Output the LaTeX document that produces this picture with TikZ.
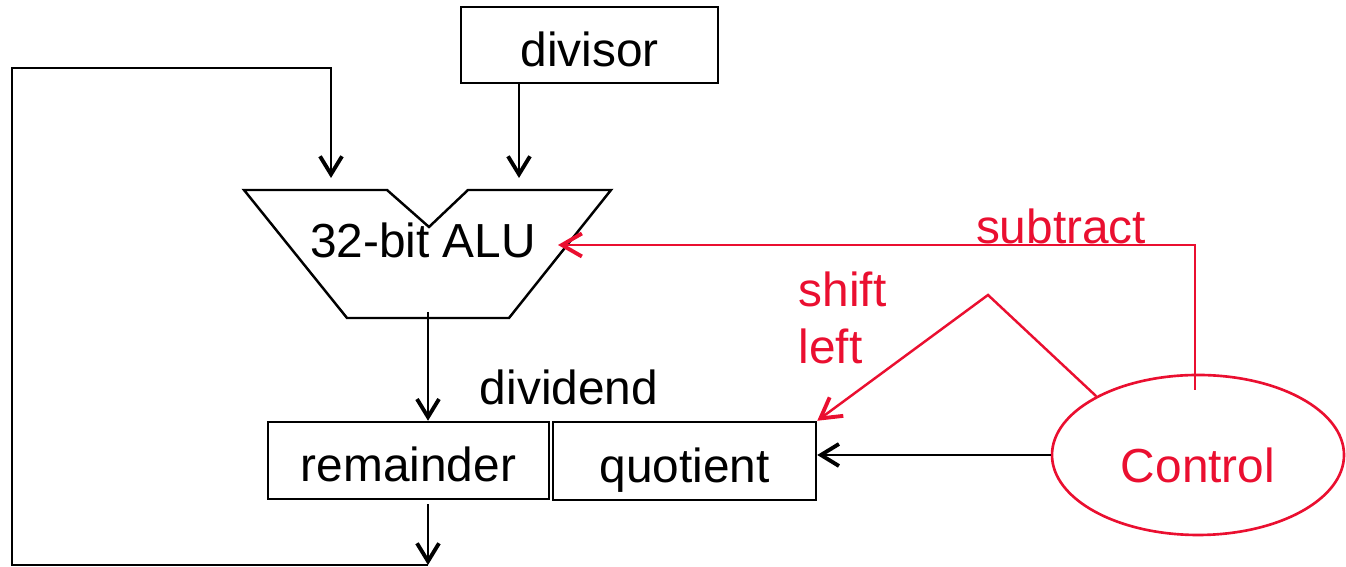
\documentclass[tikz,border=0pt]{standalone}
\usepackage{fontspec}
\setmainfont{Liberation Sans}
\usepackage{xcolor}
\usetikzlibrary{arrows.meta,shapes.geometric,calc}
\definecolor{ctrlred}{HTML}{EA0F30}
\newcommand\dpfont{\fontsize{13.6}{16}\selectfont}
\tikzset{
  reg/.style={rectangle,draw=black,line width=0.7pt,inner sep=0pt,text height=13.5pt,text depth=1.5pt,font=\dpfont},
  lbl/.style={inner sep=0pt,font=\dpfont},
  unit/.style={draw=black,line width=0.7pt},
  wire/.style={-{Straight Barb[length=1.8mm,width=2.2mm,line width=1.1pt]},line width=0.8pt,draw=black},
  ctrl/.style={ellipse,draw=ctrlred,line width=0.75pt,minimum width=2.92cm,minimum height=1.6cm,inner sep=0pt,text height=16pt,text depth=0.6pt,text=ctrlred,font=\dpfont},
  sig/.style={-{Straight Barb[length=2mm,width=2.3mm,line width=1.1pt]},line width=0.7pt,draw=ctrlred},
  sigtxt/.style={inner sep=0pt,text=ctrlred,font=\dpfont}
}

\begin{document}
\begin{tikzpicture}
  \useasboundingbox (0,0) rectangle (13.46,5.67);

  % registers
  \node[reg,minimum width=2.57cm,minimum height=0.76cm] (divisor) at (5.895,5.22) {divisor};
  \node[reg,minimum width=2.81cm,minimum height=0.77cm] (remainder) at (4.085,1.065) {remainder};
  \node[reg,minimum width=2.63cm,minimum height=0.78cm] (quotient) at (6.845,1.06) {quotient};
  \node[lbl] (dividend) at (5.69,1.80) {dividend};

  % ALU outline with the notch between its two inputs
  \draw[unit] (2.44,3.77) -- (3.87,3.77) -- (4.29,3.40) -- (4.68,3.77) -- (6.11,3.77)
    -- (5.09,2.49) -- (3.47,2.49) -- cycle;
  \node[lbl] (alu) at (4.23,3.27) {32-bit ALU};
  \coordinate (aluA) at (3.31,3.89);
  \coordinate (aluB) at (5.19,3.89);
  \coordinate (aluout) at (4.28,2.55);
  \coordinate (aluctl) at (5.58,3.22);

  % feedback loop
  \coordinate (loopbot) at (0.12,0.02);
  \coordinate (looptop) at (0.12,4.99);

  \draw[wire] (divisor.south -| aluB) -- (aluB);
  \draw[wire] (aluout) -- (aluout |- remainder.north);
  \draw[wire] ($(remainder.south -| aluout)+(0,-0.04)$) -- (aluout |- loopbot);
  \draw[wire] (aluout |- loopbot) -- (loopbot) -- (looptop) -- (looptop -| aluA) -- (aluA);

  % control unit
  \node[ctrl] (control) at (11.98,1.12) {Control};
  \coordinate (subsrc) at (11.95,1.77);
  \coordinate (shifttop) at (9.88,2.72);

  \draw[wire] (control.west) -- (control.west -| quotient.east);
  \draw[sig] (subsrc) |- (aluctl);
  \node[sigtxt] (subtract) at (10.61,3.41) {subtract};
  \draw[sig] (control.150) -- (shifttop) -- (quotient.north east);
  \node[sigtxt,align=left,anchor=west] (shift) at (7.98,2.49) {shift\\left};
\end{tikzpicture}
\end{document}
